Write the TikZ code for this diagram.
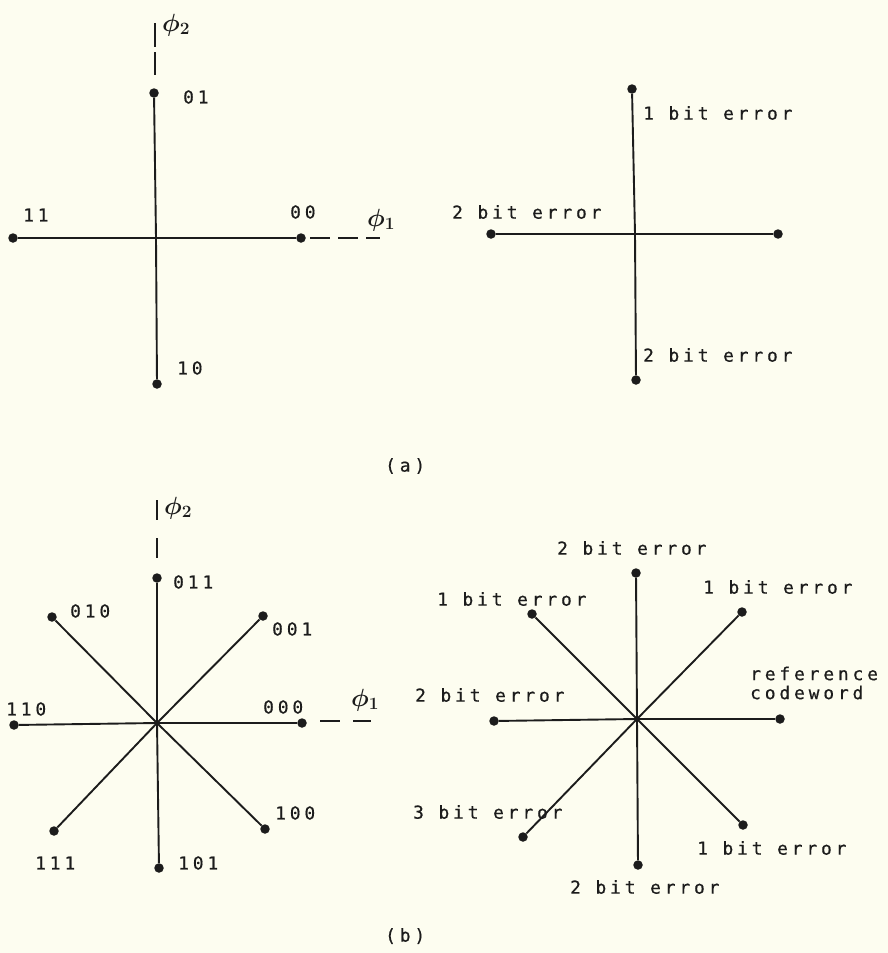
\documentclass[tikz,border=0pt]{standalone}
\usepackage{fontspec}
\usepackage{bm}
\newfontfamily\plotfont[LetterSpace=22,FakeBold=0.6]{DejaVu Sans Mono}
\definecolor{ink}{RGB}{28,28,28}
\definecolor{paper}{RGB}{253,253,240}
\tikzset{
  ax/.style={line width=1.9pt, draw=ink},
  dashax/.style={line width=1.9pt, draw=ink},
  dot/.style={circle, fill=ink, inner sep=0pt, minimum size=9.5pt},
  lbl/.style={font=\plotfont\fontsize{17.8}{19}\selectfont, text=ink, inner sep=0pt, anchor=west},
  philbl/.style={font=\fontsize{27}{29}\selectfont, text=ink, inner sep=0pt},
}
\begin{document}
\begin{tikzpicture}[x=1pt,y=-1pt]
\fill[paper] (0,0) rectangle (888,953);
\useasboundingbox (0,0) rectangle (888,953);

% ---------- (a) left ----------
\coordinate (cA) at (156,238);
\node[dot] (a01) at (154,93) {};
\node[dot] (a11) at (13,238) {};
\node[dot] (a00) at (301,238) {};
\node[dot] (a10) at (157,384) {};
\draw[ax] (cA) -- (a01);
\draw[ax] (cA) -- (a11);
\draw[ax] (cA) -- (a00);
\draw[ax] (cA) -- (a10);
\coordinate (aV1) at (155,23);
\coordinate (aV2) at (155,75);
\draw[dashax, dash pattern=on 24pt off 5pt] (aV1) -- (aV2);
\coordinate (aH1) at (310,238);
\coordinate (aH2) at (380,238);
\draw[dashax, dash pattern=on 20pt off 8pt] (aH1) -- (aH2);
\node[philbl] (aphi2) at (176,25) {$\bm{\phi}_{\bm{2}}$};
\node[philbl] (aphi1) at (381,220) {$\bm{\phi}_{\bm{1}}$};
\node[lbl] (l01) at (183,97) {01};
\node[lbl] (l11) at (23,215) {11};
\node[lbl] (l00) at (290,212) {00};
\node[lbl] (l10) at (177,368) {10};

% ---------- (a) right ----------
\coordinate (cB) at (635,234);
\node[dot] (b1) at (632,89) {};
\node[dot] (b2) at (491,234) {};
\node[dot] (b3) at (778,234) {};
\node[dot] (b4) at (636,380) {};
\draw[ax] (cB) -- (b1);
\draw[ax] (cB) -- (b2);
\draw[ax] (cB) -- (b3);
\draw[ax] (cB) -- (b4);
\node[lbl] (lb1) at (643,113) {1 bit error};
\node[lbl] (lb2) at (452,212) {2 bit error};
\node[lbl] (lb4) at (643,355) {2 bit error};

\node[lbl] (capa) at (385,466) {(a)};

% ---------- (b) left ----------
\coordinate (cC) at (157,723);
\node[dot] (c011) at (157,578) {};
\node[dot] (c010) at (52,617) {};
\node[dot] (c001) at (263,616) {};
\node[dot] (c110) at (14,725) {};
\node[dot] (c000) at (302,723) {};
\node[dot] (c111) at (54,831) {};
\node[dot] (c100) at (265,829) {};
\node[dot] (c101) at (159,868) {};
\foreach \n in {c011,c010,c001,c110,c000,c111,c100,c101}
  \draw[ax] (cC) -- (\n);
\coordinate (cV1) at (157,500);
\coordinate (cV2) at (157,560);
\draw[dashax, dash pattern=on 20pt off 18pt] (cV1) -- (cV2);
\coordinate (cH1) at (320,721);
\coordinate (cH2) at (371,721);
\draw[dashax, dash pattern=on 20pt off 13pt] (cH1) -- (cH2);
\node[philbl] (cphi2) at (178,508) {$\bm{\phi}_{\bm{2}}$};
\node[philbl] (cphi1) at (365,700) {$\bm{\phi}_{\bm{1}}$};
\node[lbl] (l011) at (173,582) {011};
\node[lbl] (l010) at (70,611) {010};
\node[lbl] (l001) at (272,629) {001};
\node[lbl] (l110) at (6,709) {110};
\node[lbl] (l000) at (263,707) {000};
\node[lbl] (l100) at (275,813) {100};
\node[lbl] (l111) at (35,863) {111};
\node[lbl] (l101) at (178,863) {101};

% ---------- (b) right ----------
\coordinate (cD) at (637,719);
\node[dot] (d1) at (636,573) {};
\node[dot] (d2) at (494,721) {};
\node[dot] (d3) at (780,719) {};
\node[dot] (d4) at (638,865) {};
\node[dot] (d5) at (532,614) {};
\node[dot] (d6) at (742,612) {};
\node[dot] (d7) at (523,837) {};
\node[dot] (d8) at (743,825) {};
\foreach \n in {d1,d2,d3,d4,d5,d6,d7,d8}
  \draw[ax] (cD) -- (\n);
\node[lbl] (ld1) at (557,548) {2 bit error};
\node[lbl] (ld5) at (437,599) {1 bit error};
\node[lbl] (ld6) at (703,587) {1 bit error};
\node[lbl, align=left] (ld3) at (750,683) {reference\\codeword};
\node[lbl] (ld2) at (415,695) {2 bit error};
\node[lbl] (ld7) at (413,812) {3 bit error};
\node[lbl] (ld8) at (697,848) {1 bit error};
\node[lbl] (ld4) at (570,887) {2 bit error};

\node[lbl] (capb) at (385,936) {(b)};
\end{tikzpicture}
\end{document}
